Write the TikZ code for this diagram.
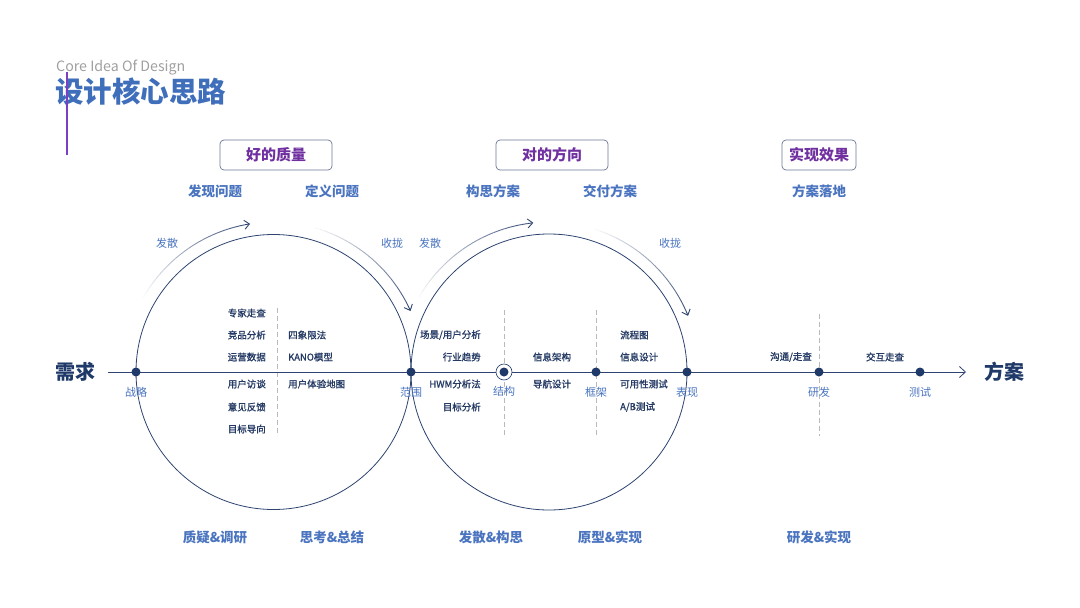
\documentclass[tikz,border=0pt]{standalone}
\usepackage{fontspec}
\setmainfont{Noto Sans CJK SC}
\newfontfamily\toolfont{Noto Sans CJK SC}[RawFeature={embolden=1.2}]
\usetikzlibrary{positioning, arrows.meta}
\definecolor{lineNavy}{HTML}{2E4470}
\definecolor{dotNavy}{HTML}{1F3A68}
\definecolor{textBlue}{HTML}{4A74BF}
\definecolor{textNavy}{HTML}{243A64}
\definecolor{boxPurple}{HTML}{7030A0}
\definecolor{boxEdge}{HTML}{6A7896}
\definecolor{titleGray}{HTML}{A0A0A0}
\definecolor{titleBlue}{HTML}{3F6EBB}
\definecolor{barPurple}{HTML}{7B3FC4}

% faded guide arc round a circle: centre, from angle, to angle
\newcommand{\fadearc}[3]{%
  \foreach \k in {0,...,22}{
    \pgfmathsetmacro{\aS}{#2+(#3-#2)*\k/24}
    \pgfmathsetmacro{\aE}{#2+(#3-#2)*(\k+1)/24}
    \pgfmathsetmacro{\pc}{4*\k+4}
    \draw[lineNavy!\pc, line width=0.9pt] ([shift={(\aS:150pt)}]#1) arc[start angle=\aS, end angle=\aE, radius=150pt];
  }
  \pgfmathsetmacro{\aS}{#2+(#3-#2)*23/24}
  \draw[lineNavy, line width=0.9pt, -{Straight Barb[length=5pt,width=9pt]}] ([shift={(\aS:150pt)}]#1) arc[start angle=\aS, end angle=#3, radius=150pt];
}

\tikzset{
  stagebox/.style={draw=boxEdge, rounded corners=4pt, line width=0.7pt, minimum width=112pt, minimum height=30pt, text=boxPurple, font=\fontsize{15}{18}\selectfont\bfseries},
  phase/.style={text=textBlue, font=\fontsize{13.5}{16}\selectfont\bfseries},
  tool/.style={text=textNavy, inner sep=1pt, font=\toolfont\fontsize{9.5}{11}\selectfont},
  dot/.style={circle, fill=dotNavy, inner sep=0pt, minimum size=9pt},
  ringdot/.style={circle, draw=dotNavy, fill=white, line width=0.6pt, inner sep=0pt, minimum size=16pt},
  stage/.style={text=textBlue, inner sep=0pt, font=\fontsize{11}{13}\selectfont},
  divider/.style={dashed, dash pattern=on 5pt off 3pt, gray!55, line width=0.9pt},
  mainline/.style={lineNavy, line width=0.8pt},
  ring/.style={lineNavy, line width=0.8pt},
  endword/.style={text=dotNavy, font=\fontsize{20}{24}\selectfont\bfseries},
}

\begin{document}
\begin{tikzpicture}[x=1pt, y=-1pt]
  \fill[white] (0,0) rectangle (1080,608);
  \useasboundingbox (0,0) rectangle (1080,608);

  % title
  \node[anchor=west, inner sep=0pt, text=titleGray, font=\fontsize{14.2}{16}\selectfont] (entitle) at (56,68) {Core Idea Of Design};
  \node[anchor=west, inner sep=0pt, text=titleBlue, font=\fontsize{28.5}{32}\selectfont\bfseries] (cntitle) at (55,92) {设计核心思路};
  \draw[barPurple, line width=1.2pt] (67,72) -- (67,155);

  % stage boxes
  \node[stagebox] (good) at (276,155) {好的质量};
  \node[stagebox] (right) at (552,155) {对的方向};
  \node[stagebox, minimum width=74pt] (effect) at (819,155) {实现效果};

  \node[phase] (findq) at (215,191) {发现问题};
  \node[phase] (defq) at (332,191) {定义问题};
  \node[phase] (idea) at (493,191) {构思方案};
  \node[phase] (deliver) at (610,191) {交付方案};
  \node[phase] (land) at (819,191) {方案落地};

  \node[phase] (doubt) at (215,537) {质疑\&调研};
  \node[phase] (think) at (332,537) {思考\&总结};
  \node[phase] (diverge) at (491,537) {发散\&构思};
  \node[phase] (proto) at (610,537) {原型\&实现};
  \node[phase] (build) at (819,537) {研发\&实现};

  % circles
  \coordinate (cL) at (273.5,372);
  \coordinate (cR) at (549,372);
  \draw[ring] (cL) circle[radius=137.5pt];
  \draw[ring] (cR) circle[radius=138pt];

  \fadearc{cL}{150}{99}
  \fadearc{cL}{74}{24}
  \fadearc{cR}{150}{96}
  \fadearc{cR}{72}{22}

  \node[stage] (divL) at (167,243) {发散};
  \node[stage] (conL) at (392,243) {收拢};
  \node[stage] (divR) at (430,243) {发散};
  \node[stage] (conR) at (670,243) {收拢};

  % dividers
  \draw[divider] (277,308) -- (277,436);
  \draw[divider] (504,310) -- (504,436);
  \draw[divider] (596,310) -- (596,436);
  \draw[divider] (819,314) -- (819,436);

  % main line
  \coordinate (start) at (108,372);
  \coordinate (tip) at (966,372);
  \draw[mainline, -{Straight Barb[length=6pt,width=11pt]}] (start) -- (tip);

  \node[endword] (need) at (76,372) {需求};
  \node[endword] (plan) at (1004,372) {方案};

  \node[dot] (zl) at (136,372) {};
  \node[dot] (fw) at (411,372) {};
  \node[ringdot] (jg) at (504,372) {};
  \node[dot] at (jg) {};
  \node[dot] (kj) at (596,372) {};
  \node[dot] (bx) at (687,372) {};
  \node[dot] (yf) at (819,372) {};
  \node[dot] (cs) at (920,372) {};

  \node[stage, below=10pt of zl] {战略};
  \node[stage, below=10pt of fw] {范围};
  \node[stage, below=6pt of jg] {结构};
  \node[stage, below=10pt of kj] {框架};
  \node[stage, below=10pt of bx] {表现};
  \node[stage, below=10pt of yf] {研发};
  \node[stage, below=10pt of cs] {测试};

  % tools, first circle
  \node[tool, anchor=east] (t1) at (267,313) {专家走查};
  \node[tool, anchor=east] (t2) at (267,335) {竞品分析};
  \node[tool, anchor=east] (t3) at (267,357) {运营数据};
  \node[tool, anchor=east] (t4) at (267,384) {用户访谈};
  \node[tool, anchor=east] (t5) at (267,407) {意见反馈};
  \node[tool, anchor=east] (t6) at (267,429) {目标导向};
  \node[tool, anchor=west] (t7) at (287,335) {四象限法};
  \node[tool, anchor=west] (t8) at (287,357) {KANO模型};
  \node[tool, anchor=west] (t9) at (287,384) {用户体验地图};

  % tools, second circle
  \node[tool, anchor=east] (s1) at (482,335) {场景/用户分析};
  \node[tool, anchor=east] (s2) at (482,357) {行业趋势};
  \node[tool, anchor=east] (s3) at (482,384) {HWM分析法};
  \node[tool, anchor=east] (s4) at (482,407) {目标分析};
  \node[tool] (s5) at (552,357) {信息架构};
  \node[tool] (s6) at (552,384) {导航设计};
  \node[tool, anchor=west] (s7) at (619,335) {流程图};
  \node[tool, anchor=west] (s8) at (619,357) {信息设计};
  \node[tool, anchor=west] (s9) at (619,384) {可用性测试};
  \node[tool, anchor=west] (s10) at (619,407) {A/B测试};

  % tools, delivery
  \node[tool] (u1) at (791,357) {沟通/走查};
  \node[tool] (u2) at (885,357) {交互走查};
\end{tikzpicture}
\end{document}
